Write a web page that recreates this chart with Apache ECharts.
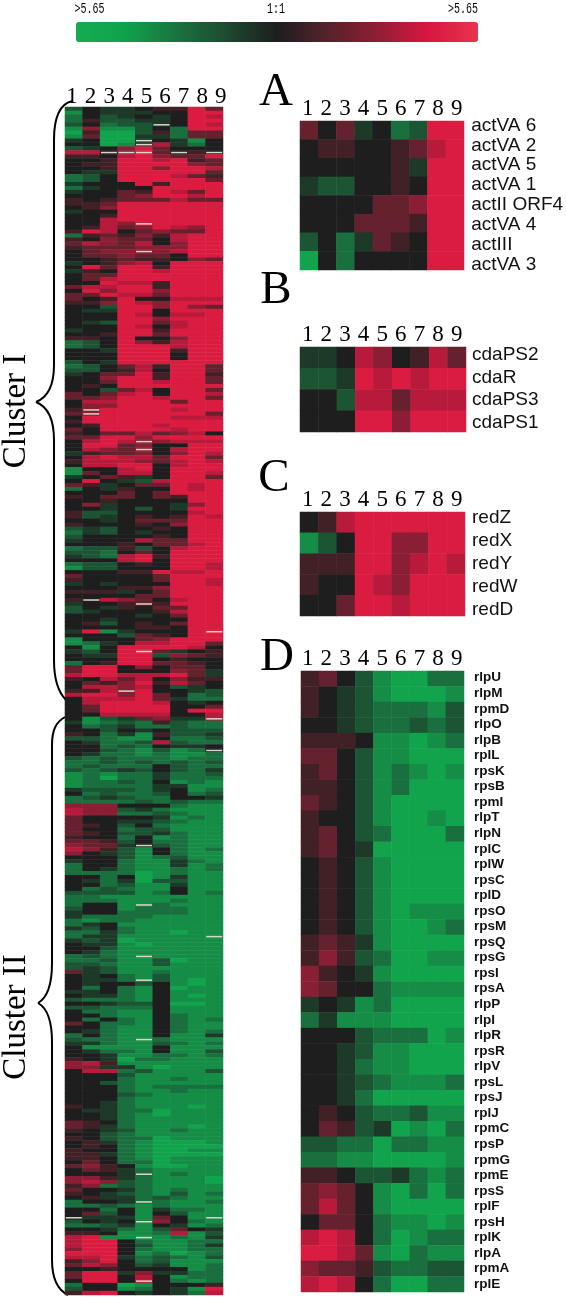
<!DOCTYPE html>
<html><head><meta charset="utf-8">
<style>html,body{margin:0;padding:0;background:#fff}#c{width:566px;height:1297px}</style>
<script src="https://cdn.jsdelivr.net/npm/echarts@6/dist/echarts.min.js"></script>
</head><body><div id="c"></div>
<script>
// Levels: a=-5 (full green) ... f=0 (black) ... k=+5 (full red), w=no data
const colLabels = ["1","2","3","4","5","6","7","8","9"];
const mainRows = [
"dfeefggkh","bfeeeffkk","cfdefefkj","cgddeefkk","dfcddwfkj","bibbdfckk","agaadgchh","bhaaeechh","efaawfebf","ffabwjecf",
"defikhfff","jjwwwhwgw","ggfjkihhk","ffgkkjkgh","fggkkkkih","ffgkkikkj","feekkkkkh","cdfkkkjhg","cdfkkkkkh","efffkgkkk",
"cefffkkkk","effhgkjhk","fffhikkjk","gfghhhjhh","gghkkkkkk","fgikkkkkk","effkkkkkk","ffgkkkkkk","ffjkkkkkk","ffjiwkkkk",
"fgjhikjik","gkjfhihhk","cghgigjkk","gfihhfjkk","hjihjfikk","ghhhiiikk","fhiiwijkk","fhhihhfkk","ffghggfih","efgijfkkk",
"fkhkkgkkk","egfkkjkkk","fhhkkkkkk","fhjkkkkkk","ffkjjgkkk","hjjkkgkkk","fkikkikkk","hhkjjhkkk","hfgkffjjj","ggikjikkk",
"ffdkkikih","feekkfkkk","fffkjfjjk","fffkkikkk","fedkkhjkk","fffkjfjkk","effkkgkkk","ffgkkhkkk","ggfkffikk","cdfkigjkk",
"cdfkkkjkk","ffekkkgkk","fffkkkfkk","fffkkkfkk","dfekkkkkk","cdfhjgkkh","ddfgjfkkh","efhhkgkkg","ffikkgkkh","ffhkkjkkh",
"fgfkkkkkk","ffdhjfkkh","hfhjkfkkj","hhikkjkkh","fjjkkkhkk","fiikkkkkk","gwkkkkjkk","hwkkkkkkh","fkkkkkjjj","gkkkkkkkk",
"fgkkkjkkk","hfkkkkjkk","gfhhjhijf","hhkkikkkk","fjkjwijjj","fkkhiffkk","fjihwfjkk","eghhifikj","fjkjjhkkh","gjjjihjkj",
"fjjkkfjkk","bffjkfkkk","bhfjjfkkj","efhgefkkh","fkfedjkkk","hgefhhkjk","cfegffkjk","fffhfhkkk","gfhhfhgkk","ffgffffkk",
"fiefffeik","ffefdfekk","gddffffjk","gdefgfgkj","ffefhhhkk","gfffgfikk","dedffgfkk","cedfeffkk","dffffgfkk","efffjhhkk",
"fffgfhhjk","cddgdfjkk","ddcfhfkkk","edcjkgkkk","fffjkfkkk","cddfgfkkj","bddfffkkj","fffggkjjk","hffffhkkk","gffffhkkj",
"efefffkkj","fffggikkk","gggefhkkk","ffffhhkkk","gwjihfjkk","effgwgkkk","dfegfhhkk","defffgjkk","ffffefhkk","ffeffffkk",
"fgdfgfhkk","ffffggfkk","ekbefffkw","fffdhgfkk","bfffhikkk","bcefjjkkh","fbfkkkkjf","edfkwhefg","feekkdihg","fffkkfgff",
"cfgkkhhgf","hkkfifhhf","hkkfffihe","jkkjjjkhe","gfjhjfigg","fhgikgjhf","fjjijfdef","ggjwkffed","jkkikhfcd","fjjjkhecc",
"fjkkkjfef","fhkkkkffh","fhkkkkfkk","ffjjjjffj","fbdehieew","ebcdcgdcc","fcdeccdcc","ffdfefddd","gfcebgdde","ddcbbfccd",
"feccdjdcc","ffcdcfeef","ffdcbdbcw","feccbcbbc","dcdcccbcc","ccdcdcdcd","cdcccfdcc","dcdedfdce","bcbcceccd","bcacceccc",
"bccdcfbcb","bcccceebb","edddcefbc","fcdccdfcd","cdedccffe","ccccdcdcc","iiifffcbb","jiidecbbb","jiiccdcbb","hffffebcb",
"hffeedcbb","hgfdfcbbb","hffcddbbb","hgfddecbb","gffcfbcbb","hhgdfccbb","ihhewdcbb","jigdbfcbc","ifedbfcbb","fffdbcdbb",
"effcbbecb","cffcbbebc","cfecbbcbc","ccccabcbb","ffcfabebb","feceaddbb","ffcdbbebb","fcdcbbfbb","ddddbcfbc","ccbbbbbbb",
"cccbbbcbb","cffbwcbbb","dffbcccbb","effccccbb","eccccbbbb","cbccbbbbb","cefbbbbbb","edfcbbbbb","ccecbbabb","ceebbbbbw",
"edeabbbbb","feebabbbb","ffdbbbbbb","fecbbbbbb","cdcbwbbbb","ccdbbdabb","ddcbbdbbb","dedbbbbbb","hedbbcbbb","fefcbdbbb",
"feecwdbab","feffdfbab","fcfcbfabb","eefcbfbbb","feecbfbab","dcccbfbbb","ffeddfaab","ddcccfbbb","fccbbfbbb","ffcbbfcbb",
"fcfcbfcbc","hfccbfcbb","ffcbbfcbb","fecbbfcbc","cfcbbfbbe","dccbwcbbb","eecbbdcbc","fbbbbfbbb","feccbfbbd","ffebbccbc",
"gfeaccbbb","ijgbbbbbb","iieebabbb","fjjcdbbbd","fffdbbbbb","fffcbbcbb","ffdcbbbbb","fffcbcccc","fffcbbcbb","fffdcbbbb",
"fffcbbbbb","ffecbbbbb","gfecbbbab","feeccabbb","ffecbabbb","ffecbbbbb","hgfcbbbbb","hgecbbbab","gfedbbcbb","ffdcbbbbb",
"gfdccabbb","fgecbaaab","fgfcbaaaa","gffcbaabb","ggecbaaaa","ggfcbabbb","fhfccabbb","higfbaabb","fhgecbbbb","fffewbcbb",
"iigecbbba","ijidcbbba","gicdcbbbb","hffecbcbb","gfedcbdbc","fgeecdcbb","cffewcbbc","ccdcbcbbb","ffcfbeccb","fhdfbfdbb",
"weeebhfbw","dfefwifcb","ccdebfebc","ffecbdhfe","ggfbbcjbd","jkbbwbcbe","jkkfcbbcc","jkkfdbbce","ikkfcbbcc","kkkfbcabc",
"jjkecdcbd","gikfcdbbb","hjifdebbc","ffgffffbc","hkkeieecc","hkkfjfbcc","fkkfwfcbc","cffabfffg","dffbcfebk","gjkfefecj"
];
const aNames = ["actVA 6","actVA 2","actVA 5","actVA 1","actII ORF4","actVA 4","actIII","actVA 3"];
const aRows = ["hfhefcdkk","fggffghjk","fffffgekk","eddffgfkk","ffffhhikk","fffhhhgkk","dfcehgfkk","afcffffkk"];
const bNames = ["cdaPS2","cdaR","cdaPS3","cdaPS1"];
const bRows = ["eefjifgjh","ddekjkjkk","ffdjjhjjj","fffkkikkk"];
const cNames = ["redZ","redX","redY","redW","redD"];
const cRows = ["fgjkkkkkk","bdfkkiikk","gggkkijkj","gffkjikkk","ffhkkjkkk"];
const dNames = ["rlpU","rlpM","rpmD","rlpO","rlpB","rplL","rpsK","rpsB","rpmI","rlpT","rlpN","rplC","rplW","rpsC","rplD","rpsO","rpsM","rpsQ","rpsG","rpsI","rpsA","rlpP","rlpI","rlpR","rpsR","rlpV","rpsL","rpsJ","rplJ","rpmC","rpsP","rpmG","rpmE","rpsS","rplF","rpsH","rplK","rlpA","rpmA","rplE"];
const dRows = ["ghfdbaacc","gfedbaaab","gfedcccbd","ffedccdcd","gggfbbabc","hhfdbbaaa","ghfdbcbab","ggfdbcaaa","hgfdbaaaa","gffdbaaba","ghfdcaaac","ghfeaaaaa","fgfdbaaaa","fgfdbaaaa","fgfdbaaaa","fgfdbabbb","fgfdbaabc","ghgebaaaa","gigdcaabb","igfebaaaa","ihffcbbbb","efebcaaaa","cebbbaaaa","fffdcccab","ffedbbaaa","ffecbbaaa","ffedcbbbc","ffecaaaaa","fgfdccdbb","fhgdeabac","ddccaccbb","ccbbaaaab","ggfddecbc","hihfbacac","hjhfbaaaa","fhhfcbbab","jkjfcabcc","kkjhbacbb","ihhgdccdd","jkjfcaacc"];
const scaleEndLabel = ">5.65", scaleMidLabel = "1:1", scaleMax = 5.65;
const scaleColors = ["#15ac52","#10a24b","#1a7340","#1d4a30","#1e1e1e","#55222a","#8e1e35","#d8163e","#e8344f"];
const clusterNames = ["Cluster I","Cluster II"];
const panelLetters = ["A","B","C","D"];

const levelStep = 0.9;
const level = ch => (ch.charCodeAt(0) - 102) * levelStep;
const grids = [], xAxes = [], yAxes = [], series = [];
function addGrid(rect, xOpt, yOpt){
  const i = grids.length;
  grids.push(Object.assign({containLabel:false, show:false}, rect));
  xAxes.push(Object.assign({gridIndex:i, type:"category"}, xOpt));
  yAxes.push(Object.assign({gridIndex:i, type:"category", inverse:true}, yOpt));
  return i;
}
function hiddenAxis(data){ return {data:data, show:false}; }
const numberFont = {fontFamily:"Liberation Serif", fontSize:23, color:"#000", margin:2};
function panel(rows, names, heat, numbers, labels, nameFont){
  const yData = names || rows.map((_, i) => String(i));
  const g = addGrid(heat, hiddenAxis(colLabels), hiddenAxis(yData));
  const data = [];
  rows.forEach((r, y) => { for (let x = 0; x < r.length; x++) {
    // a missing spot keeps the colour of the cell above it; the pale stripe is drawn on top
    let ch = r[x], up = y;
    while (ch === "w" && up > 0) ch = rows[--up][x];
    data.push([x, y, level(ch === "w" ? "f" : ch)]);
  }});
  series.push({type:"heatmap", xAxisIndex:g, yAxisIndex:g, data:data, silent:true, animation:false, progressive:0, emphasis:{disabled:true}});
  addGrid({left:numbers.left, width:numbers.width, top:numbers.top, height:1},
    {data:colLabels, position:"top", axisLine:{show:false}, axisTick:{show:false},
     axisLabel:Object.assign({interval:0}, numberFont)}, hiddenAxis(["0"]));
  if (names) addGrid({left:labels.left, width:1, top:labels.top, height:labels.height},
    hiddenAxis(["0"]),
    {data:names, position:"right", axisLine:{show:false}, axisTick:{show:false},
     axisLabel:Object.assign({interval:0, margin:0, color:"#111", fontFamily:"Liberation Sans"}, nameFont)});
}
panel(mainRows, null, {left:65, width:158, top:107, height:1188}, {left:62.7, width:167.4, top:110});
const nameA = {fontSize:19};
panel(aRows, aNames, {left:300, width:164, top:121, height:149}, {left:298.4, width:167.6, top:122.5}, {left:471, top:115.5, height:159}, nameA);
panel(bRows, bNames, {left:300, width:166, top:347, height:85}, {left:298.4, width:167.6, top:348.5}, {left:471, top:344, height:90}, nameA);
panel(cRows, cNames, {left:300, width:165, top:512, height:104}, {left:298.4, width:167.6, top:513}, {left:471, top:506.5, height:115}, nameA);
panel(dRows, dNames, {left:301, width:163, top:671, height:621}, {left:298.4, width:167.6, top:672.5}, {left:473, top:670, height:622}, {fontSize:13.5, fontWeight:"bold"});
const heatSeries = series.map((_, i) => i);

const missingSpots = [];
mainRows.forEach((r, y) => { for (let x = 0; x < r.length; x++) if (r[x] === "w") missingSpots.push([x, y]); });
series.push({type:"scatter", xAxisIndex:0, yAxisIndex:0, data:missingSpots, silent:true, animation:false,
  symbol:"rect", symbolSize:[16,1.5], itemStyle:{color:"#d8d8c8", opacity:1}, emphasis:{disabled:true}});

const brace = [
  [72,101,60,104,54,118,54,140],[54,140,54,200,54,300,54,365],[54,365,54,388,46,398,36,402],
  [36,402,46,406,54,416,54,440],[54,440,54,500,54,600,54,660],[54,660,54,680,58,692,66,700],
  [65,717,56,722,52,730,52,745],[52,745,52,800,52,900,52,963],[52,963,52,985,47,998,38,1003],
  [38,1003,47,1008,52,1020,52,1042],[52,1042,52,1100,52,1200,52,1260],[52,1260,52,1278,58,1290,68,1295]
];
const graphic = brace.map(p => ({type:"bezierCurve", silent:true,
  shape:{x1:p[0],y1:p[1],cpx1:p[2],cpy1:p[3],cpx2:p[4],cpy2:p[5],x2:p[6],y2:p[7]},
  style:{stroke:"#000",lineWidth:2,fill:null}}));
function label(text, x, y, font, extra){
  graphic.push(Object.assign({type:"text", silent:true, x:x, y:y,
    style:{text:text, font:font, fill:"#000", align:"center", verticalAlign:"middle"}}, extra||{}));
}
const clusterFont = '33px "Liberation Serif"';
label(clusterNames[0], 16, 411, clusterFont, {rotation:Math.PI/2});
label(clusterNames[1], 16, 1017, clusterFont, {rotation:Math.PI/2});
const letterFont = '47px "Liberation Serif"';
[[276,93],[276,291],[274,479],[277,657.5]].forEach((p,i) => label(panelLetters[i], p[0], p[1], letterFont));
const scaleFont = '10px "Liberation Mono"';
label(scaleEndLabel, 89.5, 9, scaleFont, {scaleY:1.5});
label(scaleMidLabel, 276, 9, scaleFont, {scaleY:1.5});
label(scaleEndLabel, 463, 9, scaleFont, {scaleY:1.5});

const chart = echarts.init(document.getElementById("c"), null, {renderer:"canvas"});
chart.setOption({
  animation:false, backgroundColor:"#fff",
  grid:grids, xAxis:xAxes, yAxis:yAxes, series:series, graphic:{elements:graphic},
  tooltip:{show:false},
  visualMap:{type:"continuous", min:-scaleMax, max:scaleMax, orient:"horizontal", left:76, top:22,
    itemWidth:20, itemHeight:402, padding:0, calculable:false, realtime:false, hoverLink:false, text:null, showLabel:false,
    borderRadius:0, itemStyle:{borderRadius:0},
    seriesIndex:heatSeries,
    inRange:{color:scaleColors}}
});
</script></body></html>
